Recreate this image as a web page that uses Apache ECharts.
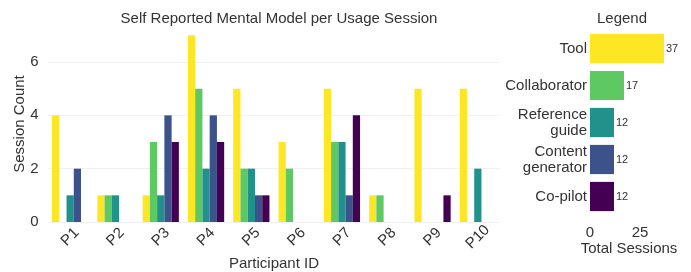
<!DOCTYPE html>
<html>
<head>
<meta charset="utf-8">
<script src="https://cdn.jsdelivr.net/npm/echarts@6/dist/echarts.min.js"></script>
<style>
  html, body { margin: 0; padding: 0; background: #fff; }
  #chart { width: 691px; height: 272px; }
</style>
</head>
<body>
<div id="chart"></div>
<script>
// participants on the x axis
const participants = ['P1', 'P2', 'P3', 'P4', 'P5', 'P6', 'P7', 'P8', 'P9', 'P10']
// mental model categories, top to bottom in the side panel
const models = ['Tool', 'Collaborator', 'Reference\nguide', 'Content\ngenerator', 'Co-pilot']
const colors = ['#FDE725', '#5EC962', '#21918C', '#3B528B', '#440154']

// session counts per participant
const tool = [4, 1, 1, 7, 5, 3, 5, 1, 5, 5]
const collaborator = [0, 1, 3, 5, 2, 2, 3, 1, 0, 0]
const referenceGuide = [1, 1, 1, 2, 2, 0, 3, 0, 0, 2]
const contentGenerator = [2, 0, 4, 4, 1, 0, 1, 0, 0, 0]
const coPilot = [0, 0, 3, 3, 1, 0, 4, 0, 1, 0]

// totals shown in the side panel
const totals = [37, 17, 12, 12, 12]

const seriesData = [tool, collaborator, referenceGuide, contentGenerator, coPilot]
const txt = '#333'
const font = 'Liberation Sans, Arial, sans-serif'

const option = {
  animation: false,
  textStyle: { fontFamily: font },
  title: [
    {
      text: 'Self Reported Mental Model per Usage Session',
      left: 274, top: 6, textAlign: 'center',
      textStyle: { fontSize: 15, fontWeight: 'normal', color: txt }
    },
    {
      text: 'Legend',
      left: 617, top: 6, textAlign: 'center',
      textStyle: { fontSize: 15, fontWeight: 'normal', color: txt }
    }
  ],
  grid: [
    { left: 47.5, right: 190.5, top: 26, bottom: 50, outerBoundsMode: 'none' },
    { left: 590, width: 78, top: 30, height: 185, outerBoundsMode: 'none' }
  ],
  xAxis: [
    {
      type: 'category',
      gridIndex: 0,
      data: participants,
      axisLine: { show: false },
      axisTick: { show: false },
      axisLabel: {
        rotate: 45, align: 'center', verticalAlign: 'middle',
        margin: 15, fontSize: 15, color: txt
      },
      name: 'Participant ID',
      nameLocation: 'middle',
      nameMoveOverlap: false,
      nameGap: 34,
      nameTextStyle: { fontSize: 15, color: txt }
    },
    {
      type: 'value',
      gridIndex: 1,
      min: 0, max: 39, interval: 25,
      splitLine: { show: false },
      axisLine: { show: false },
      axisTick: { show: false },
      axisLabel: { fontSize: 15, color: txt, margin: 10, showMaxLabel: false },
      name: 'Total Sessions',
      nameLocation: 'middle',
      nameMoveOverlap: false,
      nameGap: 26,
      nameTextStyle: { fontSize: 15, color: txt }
    }
  ],
  yAxis: [
    {
      type: 'value',
      gridIndex: 0,
      min: 0, max: 7.35, interval: 2,
      axisLine: { show: false },
      axisTick: { show: false },
      axisLabel: { fontSize: 15, color: txt, margin: 9, showMaxLabel: false },
      splitLine: { show: true, showMaxLine: false, lineStyle: { color: '#f0f0f0', width: 1 } },
      name: 'Session Count',
      nameLocation: 'middle',
      nameMoveOverlap: false,
      nameGap: 20,
      nameTextStyle: { fontSize: 15, color: txt }
    },
    {
      type: 'category',
      gridIndex: 1,
      data: models,
      inverse: true,
      axisLine: { show: false },
      axisTick: { show: false },
      axisLabel: { fontSize: 15, color: txt, margin: 3, lineHeight: 16 }
    }
  ],
  series: [
    ...seriesData.map((d, i) => ({
      name: models[i],
      type: 'bar',
      xAxisIndex: 0,
      yAxisIndex: 0,
      data: d,
      barGap: 0,
      barCategoryGap: '20%',
      itemStyle: { color: colors[i] }
    })),
    {
      type: 'bar',
      xAxisIndex: 1,
      yAxisIndex: 1,
      barCategoryGap: '21%',
      data: totals.map((v, i) => ({ value: v, itemStyle: { color: colors[i] } })),
      label: {
        show: true, position: 'right', distance: 2,
        fontSize: 11, color: txt
      }
    }
  ]
}

const chart = echarts.init(document.getElementById('chart'))
chart.setOption(option)
</script>
</body>
</html>
